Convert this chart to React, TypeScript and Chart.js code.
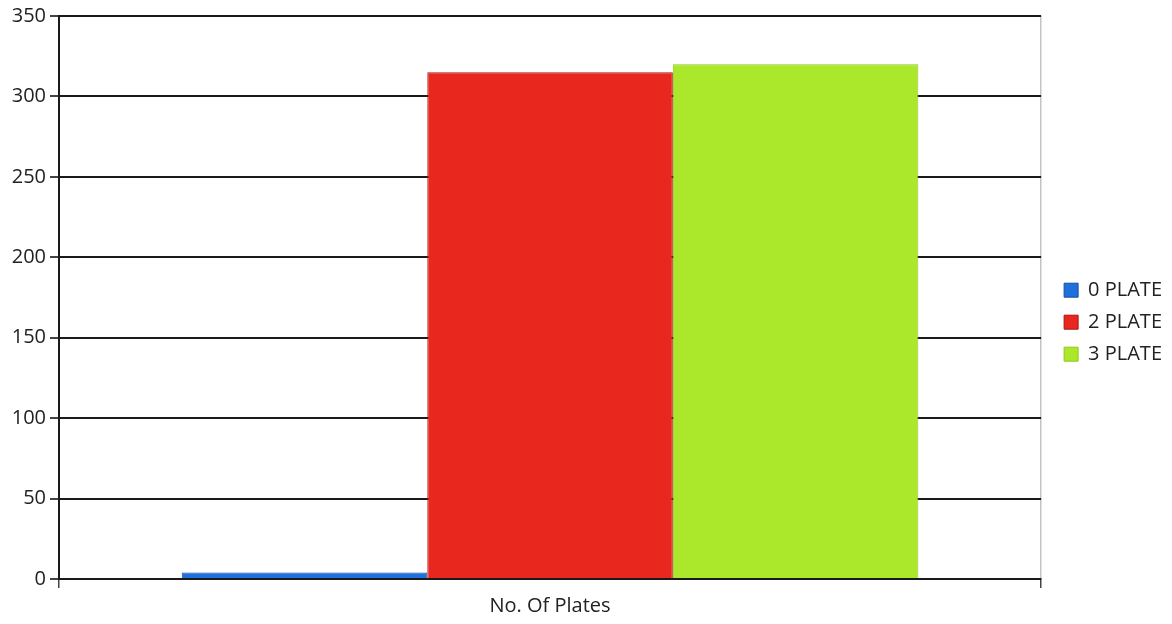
import React, { useEffect, useRef } from "react";
import { Chart, registerables } from "chart.js";

Chart.register(...registerables);

const categories = ["No. Of Plates"];
const seriesLabels = ["0 PLATE", "2 PLATE", "3 PLATE"];
const seriesValues = [4, 315, 320];
const seriesColors = ["#1f6fdc", "#e8281f", "#abe82c"];
const seriesBorders = ["#174f9e", "#a81510", "#8fc81e"];
const yTicks = [0, 50, 100, 150, 200, 250, 300, 350];

const FONT = "'Open Sans', sans-serif";

export default function App() {
  const ref = useRef<HTMLCanvasElement | null>(null);

  useEffect(() => {
    if (!ref.current) return;
    const chart = new Chart(ref.current, {
      type: "bar",
      data: {
        labels: categories,
        datasets: seriesLabels.map((label, i) => ({
          label,
          data: [seriesValues[i]],
          backgroundColor: seriesColors[i],
          borderColor: seriesBorders[i],
          borderWidth: 1,
          categoryPercentage: 0.75,
          barPercentage: 1,
        })),
      },
      options: {
        animation: false,
        responsive: true,
        maintainAspectRatio: false,
        layout: { padding: { left: 0, top: 2, right: 0, bottom: 0 } },
        plugins: {
          tooltip: { enabled: false },
          legend: {
            position: "right",
            align: "center",
            title: { display: true, text: "", padding: { top: 4, bottom: 0 } },
            labels: {
              boxWidth: 14,
              boxHeight: 14,
              padding: 12,
              color: "#222",
              font: { family: FONT, size: 20 },
            },
          },
        },
        scales: {
          x: {
            grid: {
              display: true,
              drawOnChartArea: true,
              offset: true,
              color: "#c4c4c4",
              lineWidth: 1.5,
              tickColor: "#444",
              tickLength: 9,
            },
            border: { display: true, color: "#1a1a1a", width: 2 },
            ticks: {
              padding: 6,
              color: "#222",
              font: { family: FONT, size: 20 },
            },
          },
          y: {
            min: 0,
            max: 350,
            afterBuildTicks: (axis: any) => {
              axis.ticks = yTicks.map((v) => ({ value: v }));
            },
            afterFit: (axis: any) => {
              axis.width = 59;
            },
            grid: {
              color: "#1a1a1a",
              lineWidth: 2,
              tickColor: "#444",
              tickLength: 9,
            },
            border: { display: true, color: "#1a1a1a", width: 2 },
            ticks: {
              padding: 4,
              color: "#222",
              font: { family: FONT, size: 20 },
            },
          },
          yr: {
            position: "right",
            min: 0,
            max: 350,
            afterFit: (axis: any) => {
              axis.width = 11;
            },
            grid: { display: false, drawOnChartArea: false },
            border: { display: false },
            ticks: { display: false },
          },
        },
      },
    });
    return () => chart.destroy();
  }, []);

  return (
    <div style={{ position: "fixed", left: 0, top: 0, width: 1172, height: 624, background: "#fff" }}>
      <canvas ref={ref} />
    </div>
  );
}
